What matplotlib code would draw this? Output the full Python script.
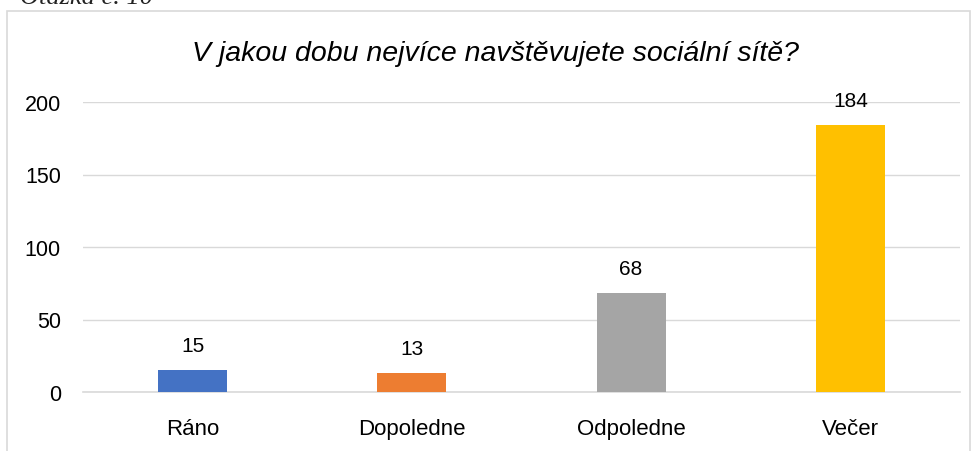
import matplotlib
matplotlib.use("Agg")
import matplotlib.pyplot as plt
from matplotlib.patches import Rectangle

categories = ["Ráno", "Dopoledne", "Odpoledne", "Večer"]
values = [15, 13, 68, 184]
colors = ["#4472C4", "#ED7D31", "#A5A5A5", "#FFC000"]
title = "V jakou dobu nejvíce navštěvujete sociální sítě?"
caption = "Otázka č. 10"

plt.rcParams['font.family'] = ['Liberation Sans', 'DejaVu Sans']

fig = plt.figure(figsize=(9.76, 4.52), dpi=100)
W, H = 976, 452
# chart border
fig.patches.append(Rectangle((6.5 / W, -0.1), (970 - 6.5) / W, 1.1 - 11.5 / H,
                             transform=fig.transFigure, fill=False,
                             edgecolor="#D9D9D9", linewidth=1.2))
fig.text(20 / W, 1 - 4 / H, caption, family=['Liberation Serif'], style='italic',
         fontsize=19, va='baseline', ha='left', color='#222222')

ax = fig.add_axes([83 / W, 1 - 393 / H, (960 - 83) / W, (393 - 103) / H])
x = range(len(categories))
bars = ax.bar(x, values, width=0.315, color=colors, zorder=3)
ax.set_xlim(-0.5, len(categories) - 0.5)
ax.set_ylim(0, 200)
ax.set_yticks([0, 50, 100, 150, 200])
ax.grid(axis='y', color='#D9D9D9', linewidth=1, zorder=0)
ax.set_axisbelow(True)
for s in ['top', 'right', 'left']:
    ax.spines[s].set_visible(False)
ax.spines['bottom'].set_color('#D9D9D9')
ax.spines['bottom'].set_linewidth(1.2)
ax.tick_params(axis='both', length=0, colors='#000000')
ax.tick_params(axis='y', pad=16, labelsize=15.5)
ax.tick_params(axis='x', pad=19, labelsize=16)
ax.set_xticks(list(x))
ax.set_xticklabels(categories)
for xi, v in zip(x, values):
    ax.annotate(str(v), (xi, v), xytext=(0, 11), textcoords='offset points',
                ha='center', va='bottom', fontsize=15)
fig.text(496 / W, 1 - 54 / H, title, style='italic', fontsize=20.5,
         ha='center', va='center')
fig.savefig("out.png", dpi=100)
